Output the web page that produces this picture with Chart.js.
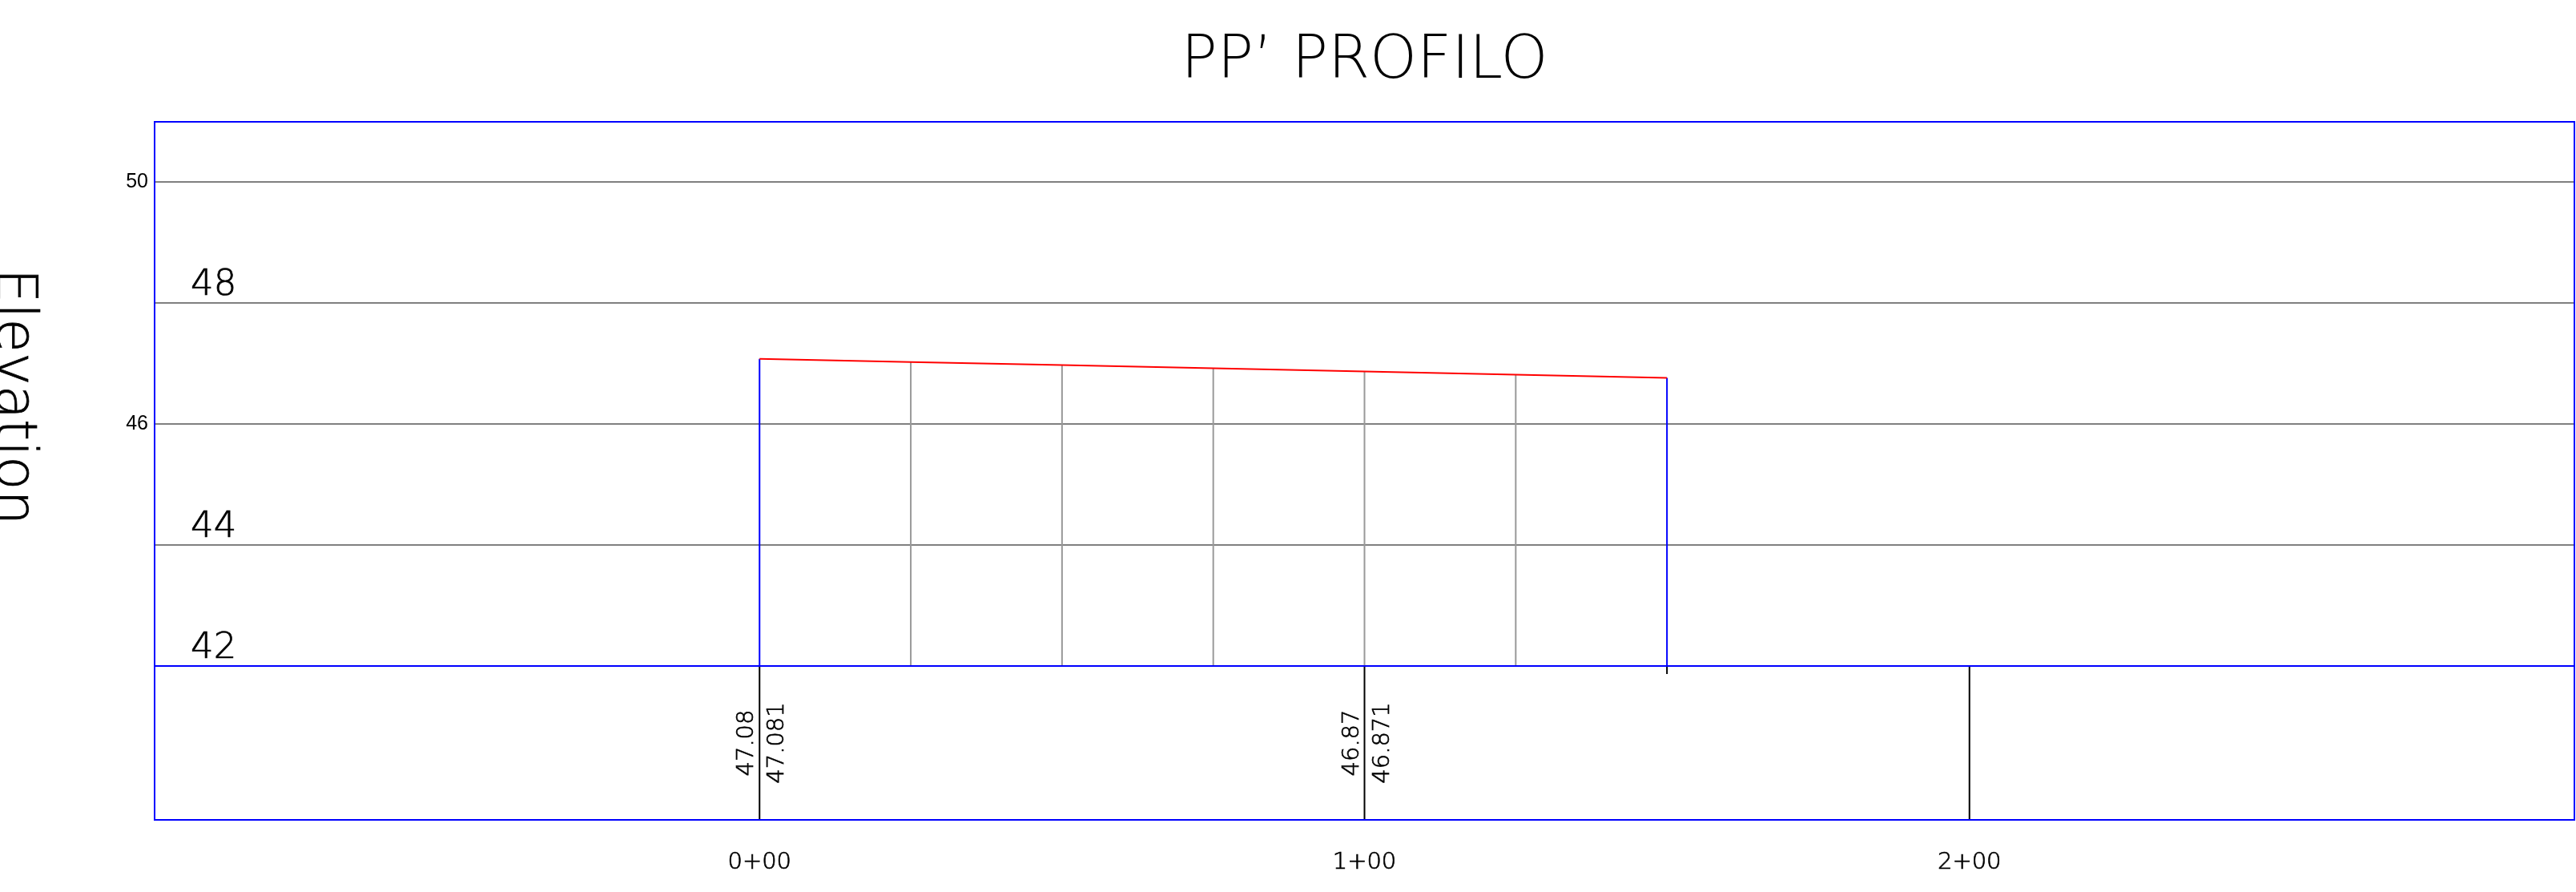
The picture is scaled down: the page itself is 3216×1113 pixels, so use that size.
<!DOCTYPE html>
<html>
<head>
<meta charset="utf-8">
<script src="https://cdn.jsdelivr.net/npm/chart.js@4.4.1/dist/chart.umd.min.js"></script>
<style>
    html, body { margin: 0; padding: 0; background: #fff; }
</style>
</head>
<body>
<canvas id="profile_chart" width="3216" height="1113"></canvas>
<script>
// profile data (station, elevation)
const stations = [0, 25, 50, 75, 100, 125, 150];
const elevations = [47.081, 47.028, 46.976, 46.923, 46.871, 46.818, 46.766];

const yTicks = [42, 44, 46, 48, 50];
const yLabelsSmall = [50, 46];
const yLabelsLarge = [48, 44, 42];
const xTicks = [0, 100, 200];

// band below the profile
const tableStations = [0, 100, 200];
const labelStations = [0, 100];
const labelsLeft = ['47.08', '46.87'];
const labelsRight = ['47.081', '46.871'];

const thin = '"DejaVu Sans"';
const blue = '#0000ff';

function stationText(v) {
    let hundreds = Math.floor(v / 100);
    let rest = String(v % 100).padStart(2, '0');
    return hundreds + '+' + rest;
}

// thin cad-like text, a hair darker
function cadText(ctx, txt, x, y) {
    ctx.fillText(txt, x, y);
    ctx.strokeText(txt, x, y);
}

const profilePlugin = {
    id: 'profile',
    beforeDatasetsDraw(chart) {
        const ctx = chart.ctx;
        const x = chart.scales.x, y = chart.scales.y;
        const ground = y.getPixelForValue(42);
        ctx.save();
        ctx.lineWidth = 2;
        for (let i = 0; i < stations.length; i++) {
            let last = (i == 0 || i == stations.length - 1);
            ctx.strokeStyle = last ? blue : '#999999';
            let px = x.getPixelForValue(stations[i]);
            ctx.beginPath();
            ctx.moveTo(px, ground);
            ctx.lineTo(px, y.getPixelForValue(elevations[i]));
            ctx.stroke();
        }
        ctx.restore();
    },
    afterDatasetsDraw(chart) {
        const ctx = chart.ctx;
        const area = chart.chartArea;
        const x = chart.scales.x, y = chart.scales.y;
        const ground = y.getPixelForValue(42);
        const tableBottom = ground + 192;
        ctx.save();

        // table verticals
        ctx.strokeStyle = '#000';
        ctx.lineWidth = 2;
        tableStations.forEach((s) => {
            let px = x.getPixelForValue(s);
            ctx.beginPath();
            ctx.moveTo(px, ground);
            ctx.lineTo(px, tableBottom);
            ctx.stroke();
        });
        let endX = x.getPixelForValue(stations[stations.length - 1]);
        ctx.beginPath();
        ctx.moveTo(endX, ground);
        ctx.lineTo(endX, ground + 10);
        ctx.stroke();

        // blue frame
        ctx.strokeStyle = blue;
        ctx.beginPath();
        ctx.moveTo(area.left, ground);
        ctx.lineTo(area.right, ground);
        ctx.stroke();
        ctx.strokeRect(area.left, area.top, area.right - area.left, tableBottom - area.top);

        // rotated values in the band
        ctx.fillStyle = '#000';
        ctx.strokeStyle = '#000';
        ctx.lineWidth = 0.7;
        ctx.font = '200 29px ' + thin;
        ctx.textAlign = 'center';
        ctx.textBaseline = 'alphabetic';
        labelStations.forEach((s, i) => {
            let px = x.getPixelForValue(s);
            ctx.save();
            ctx.translate(px - 8, ground + 96);
            ctx.rotate(-Math.PI / 2);
            cadText(ctx, labelsLeft[i], 0, 0);
            ctx.restore();
            ctx.save();
            ctx.translate(px + 30, ground + 96);
            ctx.rotate(-Math.PI / 2);
            cadText(ctx, labelsRight[i], 0, 0);
            ctx.restore();
        });

        // big elevation labels inside the plot
        ctx.font = '200 45px ' + thin;
        ctx.textAlign = 'left';
        yLabelsLarge.forEach((v) => {
            cadText(ctx, String(v), area.left + 45, y.getPixelForValue(v) - 10);
        });

        // axis title, reading downwards
        ctx.font = '200 69px ' + thin;
        ctx.textAlign = 'center';
        ctx.save();
        ctx.translate(-3, 495);
        ctx.rotate(Math.PI / 2);
        cadText(ctx, 'Elevation', 0, 0);
        ctx.restore();

        ctx.restore();
    }
};

const data = {
    datasets: [{
        data: stations.map((s, i) => ({ x: s, y: elevations[i] })),
        borderColor: '#ff0000',
        borderWidth: 2,
        pointRadius: 0,
        tension: 0,
        fill: false
    }]
};

const config = {
    type: 'line',
    data: data,
    options: {
        responsive: false,
        animation: false,
        devicePixelRatio: 1,
        layout: {
            padding: { left: 0, right: 2, top: 0, bottom: 0 }
        },
        plugins: {
            legend: { display: false },
            tooltip: { enabled: false },
            title: {
                display: true,
                text: 'PP\u2019 PROFILO',
                color: '#000',
                fullSize: false,
                font: { family: thin, size: 75, weight: 200 },
                padding: { top: 33, bottom: 29 }
            }
        },
        scales: {
            x: {
                type: 'linear',
                min: -100,
                max: 300,
                afterBuildTicks: (s) => { s.ticks = xTicks.map((v) => ({ value: v })) },
                afterFit: (s) => { s.height = 282 },
                grid: { display: false },
                border: { display: false },
                ticks: {
                    color: '#000',
                    padding: 220,
                    maxRotation: 0,
                    textStrokeColor: '#000',
                    textStrokeWidth: 0.7,
                    font: { family: thin, size: 29, weight: 200 },
                    callback: (v) => stationText(v)
                }
            },
            y: {
                min: 42,
                max: 51,
                afterBuildTicks: (s) => { s.ticks = yTicks.map((v) => ({ value: v })) },
                afterFit: (s) => { s.width = 193 },
                grid: {
                    drawTicks: false,
                    lineWidth: 2,
                    color: (c) => c.tick && c.tick.value == 42 ? blue : '#808080'
                },
                border: { display: false },
                ticks: {
                    color: '#000',
                    padding: 8,
                    font: { family: '"Liberation Sans"', size: 25 },
                    callback: (v) => yLabelsSmall.includes(v) ? String(v) : ''
                }
            }
        }
    },
    plugins: [profilePlugin]
};

const profile_chart = new Chart(
    document.getElementById('profile_chart'),
    config
);
</script>
</body>
</html>
